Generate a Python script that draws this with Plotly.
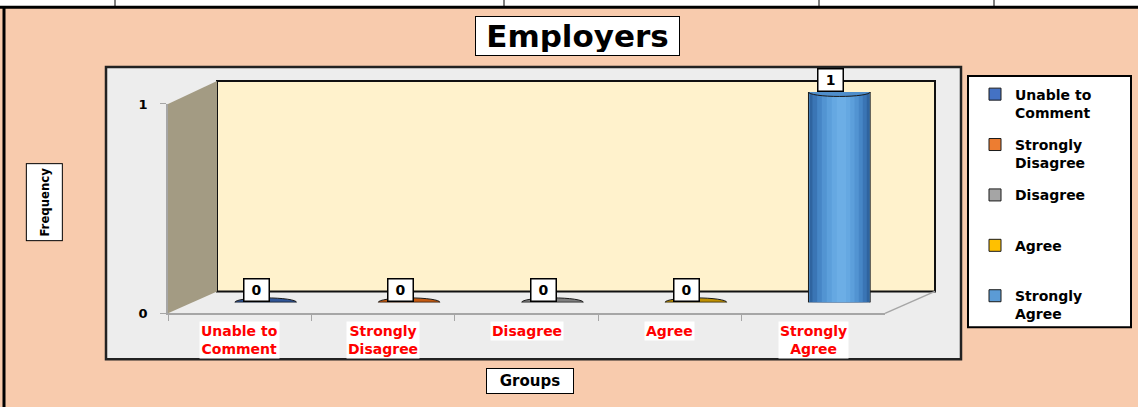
import plotly.graph_objects as go

# Employers - frequency per response group
groups = ["Unable to Comment", "Strongly Disagree", "Disagree", "Agree", "Strongly Agree"]
tick_labels = ["Unable to<br>Comment", "Strongly<br>Disagree", "Disagree", "Agree", "Strongly<br>Agree"]
values = [0, 0, 0, 0, 1]
colors = ["#4472C4", "#ED7D31", "#A5A5A5", "#FFC000", "#5B9BD5"]
base_colors = ["#2F5597", "#C55A11", "#7F7F7F", "#BF9000", "#2F64A0"]

W, H = 1138, 407
FONT = "DejaVu Sans"
# the photo of the page comes out slightly squeezed vertically; positions below
# are given in photo pixels and mapped back to figure pixels here
SY, OFF = 0.966, 7


def fx(p):
    return p / W


def fy(p):
    return 1 - (p / SY - OFF) / H


fig = go.Figure()

bar_w = 0.43
for i, g in enumerate(groups):
    name = tick_labels[i] if "<br>" in tick_labels[i] else tick_labels[i] + "<br> "
    fig.add_trace(go.Bar(
        x=[g], y=[values[i]], name=name, legendgroup=g,
        width=bar_w,
        marker=dict(color=colors[i], line=dict(color="#1a1a1a", width=1)),
        hoverinfo="x+y",
    ))

# cylinder shading (lighter toward a highlight just right of centre)
shade = [(0.97, "#2F64A0"), (0.88, "#3A75B5"), (0.74, "#4686C6"), (0.6, "#5294D2"),
         (0.45, "#5C9FDB"), (0.3, "#65A8E2"), (0.15, "#6CAEE6")]
for i, g in enumerate(groups):
    for frac, c in shade:
        w = bar_w * frac
        fig.add_trace(go.Bar(
            x=[g], y=[values[i]], width=w, offset=-w / 2 + bar_w * 0.04 * (1 - frac),
            marker=dict(color=c, line=dict(width=0)),
            showlegend=False, hoverinfo="skip",
        ))

# invisible trace to carry the front category axis
fig.add_trace(go.Scatter(x=groups, y=values, xaxis="x2", yaxis="y2", mode="markers",
                         marker=dict(opacity=0), showlegend=False, hoverinfo="skip"))

shapes = [
    dict(type="rect", xref="paper", yref="paper", x0=0, x1=1, y0=fy(7), y1=1.05,
         fillcolor="white", line=dict(width=0), layer="below"),
    dict(type="line", xref="paper", yref="paper", x0=0, x1=1, y0=fy(7), y1=fy(7),
         line=dict(color="black", width=3), layer="below"),
    dict(type="line", xref="paper", yref="paper", x0=fx(4), x1=fx(4), y0=-0.05, y1=fy(7),
         line=dict(color="black", width=3), layer="below"),
    dict(type="rect", xref="paper", yref="paper", x0=fx(106), x1=fx(961), y0=fy(360), y1=fy(67),
         fillcolor="#EDEDED", line=dict(color="#222222", width=2.5), layer="below"),
    dict(type="rect", xref="paper", yref="paper", x0=fx(217), x1=fx(935), y0=fy(292), y1=fy(81),
         fillcolor="#FFF2CC", line=dict(color="#111111", width=2), layer="below"),
    dict(type="path", xref="paper", yref="paper",
         path=f"M {fx(168)},{fy(104)} L {fx(217)},{fy(81)} L {fx(217)},{fy(292)} L {fx(168)},{fy(314)} Z",
         fillcolor="#A39B83", line=dict(width=0), layer="below"),
    dict(type="line", xref="paper", yref="paper", x0=fx(885), x1=fx(935), y0=fy(314), y1=fy(292),
         line=dict(color="#A6A6A6", width=1.5), layer="below"),
    dict(type="rect", xref="paper", yref="paper", x0=fx(968), x1=fx(1131), y0=fy(328), y1=fy(76),
         fillcolor="white", line=dict(color="black", width=2), layer="below"),
]
for xv in [115, 504, 819, 994]:
    shapes.append(dict(type="line", xref="paper", yref="paper", x0=fx(xv), x1=fx(xv),
                       y0=fy(7), y1=1.05, line=dict(color="black", width=1), layer="below"))

eh = 0.0213
for i, v in enumerate(values):
    shapes.append(dict(type="circle", xref="x", yref="y", x0=i - bar_w / 2, x1=i + bar_w / 2,
                       y0=-eh, y1=eh, fillcolor=base_colors[i],
                       line=dict(color="#1a1a1a", width=1), layer="below"))
    if v:
        shapes.append(dict(type="circle", xref="x", yref="y", x0=i - bar_w / 2, x1=i + bar_w / 2,
                           y0=v - eh, y1=v + eh, fillcolor="#4F8ECB",
                           line=dict(color="#1a1a1a", width=1), layer="above"))

annotations = [
    dict(text="<b>Employers</b>", xref="paper", yref="paper", x=fx(577.5), y=fy(35.5),
         xanchor="center", yanchor="middle",
         showarrow=False, font=dict(family=FONT, size=31, color="black"),
         bgcolor="white", bordercolor="black", borderwidth=1, borderpad=3, width=197, height=32),
    dict(text="<b>Groups</b>", xref="paper", yref="paper", x=fx(530), y=fy(381.5),
         xanchor="center", yanchor="middle",
         showarrow=False, font=dict(family=FONT, size=15, color="black"),
         bgcolor="white", bordercolor="black", borderwidth=1, borderpad=2, width=82, height=20),
    dict(text="<b>Frequency</b>", xref="paper", yref="paper", x=fx(44.5), y=fy(203),
         xanchor="center", yanchor="middle",
         showarrow=False, textangle=-90,
         font=dict(family="DejaVu Sans Condensed, DejaVu Sans", size=13, color="black"),
         bgcolor="white", bordercolor="black", borderwidth=1, borderpad=2, width=72, height=31),
]
for i, g in enumerate(groups):
    annotations.append(dict(text=f"<b>{values[i]}</b>", xref="x", yref="y", x=g, y=values[i],
                            showarrow=False, yanchor="bottom", xshift=-9,
                            font=dict(family=FONT, size=14, color="black"),
                            bgcolor="white", bordercolor="black", borderwidth=1.5,
                            borderpad=2, width=20, height=17))
    annotations.append(dict(text=f"<b>{tick_labels[i]}</b>", xref="x2", yref="paper", x=g,
                            y=fy(322), yanchor="top", showarrow=False,
                            font=dict(family=FONT, size=14, color="#FF0000"),
                            bgcolor="white", borderpad=1))

fig.update_layout(
    width=W, height=H,
    margin=dict(l=0, r=0, t=0, b=0),
    paper_bgcolor="#F8CBAD",
    plot_bgcolor="rgba(0,0,0,0)",
    barmode="overlay",
    showlegend=True,
    legend=dict(x=fx(975), y=fy(78.5), xanchor="left", yanchor="top",
                bgcolor="rgba(0,0,0,0)", borderwidth=0, valign="top", tracegroupgap=11,
                font=dict(family=FONT, size=14, color="black", weight="bold")),
    xaxis=dict(domain=[fx(194), fx(911)], type="category", categoryarray=groups,
               range=[-0.5, 4.5], visible=False),
    yaxis=dict(domain=[fy(303), fy(92)], range=[0, 1], visible=False),
    xaxis2=dict(domain=[fx(168), fx(885)], anchor="y2", type="category", categoryarray=groups,
                range=[-0.5, 4.5], showline=True, linecolor="#A6A6A6", linewidth=1.5,
                ticks="outside", tickson="boundaries", ticklen=6, tickcolor="#A6A6A6",
                showticklabels=False, showgrid=False, zeroline=False),
    yaxis2=dict(domain=[fy(314), fy(104)], anchor="x2", range=[0, 1], tickvals=[0, 1],
                ticks="outside", ticklen=6, tickcolor="#A6A6A6", showline=True,
                linecolor="#A6A6A6", linewidth=1.5, showgrid=False, zeroline=False,
                tickfont=dict(family=FONT, size=13, color="black", weight="bold"),
                ticklabelstandoff=10),
    shapes=shapes,
    annotations=annotations,
)

pin = ("document.body.style.margin='0';"
       "document.body.style.background='linear-gradient(white 50%, #F8CBAD 50%)';"
       "var d=document.getElementById('{plot_id}');"
       "d.style.position='fixed';d.style.top='0';d.style.left='0';")
fig.write_html("out.html", config={"displayModeBar": False}, post_script=pin)
